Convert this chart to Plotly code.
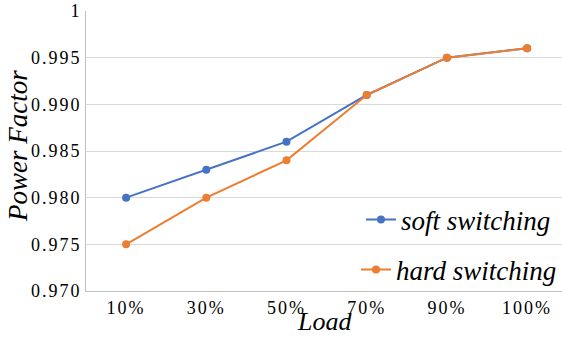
import plotly.graph_objects as go

categories = ["10%", "30%", "50%", "70%", "90%", "100%"]
soft_switching = [0.980, 0.983, 0.986, 0.991, 0.995, 0.996]
hard_switching = [0.975, 0.980, 0.984, 0.991, 0.995, 0.996]
y_tick_vals = [0.970, 0.975, 0.980, 0.985, 0.990, 0.995, 1.0]
y_tick_text = ["0.970", "0.975", "0.980", "0.985", "0.990", "0.995", "1"]

SERIF = "Liberation Serif"

x_idx = list(range(len(categories)))

fig = go.Figure()
fig.add_trace(go.Scatter(
    x=x_idx, y=soft_switching, mode="lines+markers", name="soft switching",
    line=dict(color="#4472C4", width=2), marker=dict(size=8, color="#4472C4"),
    legend="legend", showlegend=True))
fig.add_trace(go.Scatter(
    x=x_idx, y=hard_switching, mode="lines+markers", name="hard switching",
    line=dict(color="#ED7D31", width=2), marker=dict(size=8, color="#ED7D31"),
    legend="legend2", showlegend=True))

leg_common = dict(font=dict(family=SERIF, size=27, color="#000000", style="italic"),
                  bgcolor="rgba(0,0,0,0)", xanchor="left", yanchor="middle",
                  xref="paper", yref="paper", itemwidth=30, visible=True,
                  borderwidth=0)

W0, W = 86, 476
H0, H = 291, 280

fig.update_layout(
    width=562, height=339,
    showlegend=True,
    margin=dict(l=86, r=0, t=11, b=48),
    paper_bgcolor="white", plot_bgcolor="white",
    legend=dict(x=(361 - W0) / W, y=(H0 - 220) / H, **leg_common),
    legend2=dict(x=(356 - W0) / W, y=(H0 - 270) / H, **leg_common),
    xaxis=dict(
        tickvals=x_idx, ticktext=categories,
        range=[-0.5, 5.435], showgrid=False,
        showline=True, linecolor="#BFBFBF", linewidth=1,
        ticks="", tickfont=dict(family=SERIF, size=18, color="#000000"),
        zeroline=False),
    yaxis=dict(
        range=[0.970, 1.0], tickvals=y_tick_vals, ticktext=y_tick_text,
        showgrid=True, gridcolor="#D9D9D9", gridwidth=1,
        showline=True, linecolor="#BFBFBF", linewidth=1,
        ticks="", tickfont=dict(family=SERIF, size=18, color="#000000"),
        zeroline=False),
    annotations=[
        dict(text="Load", xref="paper", yref="paper", x=(324.5 - W0) / W, y=(H0 - 321) / H,
             xanchor="center", yanchor="middle", showarrow=False,
             font=dict(family=SERIF, size=26, color="#000000", style="italic")),
        dict(text="Power Factor", xref="paper", yref="paper", x=(18 - W0) / W, y=(H0 - 146) / H,
             xanchor="center", yanchor="middle", showarrow=False, textangle=-90,
             font=dict(family=SERIF, size=27, color="#000000", style="italic")),
    ],
)

post = (
    "document.body.style.margin='0';document.body.style.padding='0';"
    "document.querySelectorAll('.xtick text, .ytick text').forEach(function(t){t.style.letterSpacing='2px';});"
)

fig.write_html("out.html", config={"displayModeBar": False}, post_script=post)
